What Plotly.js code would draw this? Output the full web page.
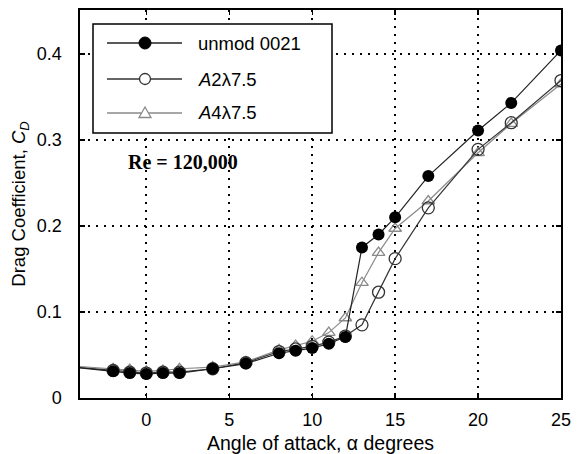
<!DOCTYPE html>
<html>
<head>
<meta charset="utf-8">
<script src="https://cdn.plot.ly/plotly-3.0.1.min.js"></script>
<style>
  html, body { margin: 0; padding: 0; background: #fff; }
  #chart { width: 580px; height: 454px; }
</style>
</head>
<body>
<div id="chart"></div>
<script>
// Angle of attack (degrees)
const alpha = [-5, -2, -1, 0, 1, 2, 4, 6, 8, 9, 10, 11, 12, 13, 14, 15, 17, 20, 22, 25];

// Drag coefficient for each configuration
const cdUnmod = [0.037, 0.031, 0.029, 0.028, 0.029, 0.029, 0.034, 0.040, 0.052, 0.055, 0.058, 0.063, 0.071, 0.175, 0.190, 0.210, 0.258, 0.311, 0.343, 0.404];
const cdA2 = [0.037, 0.032, 0.030, 0.029, 0.030, 0.030, 0.034, 0.041, 0.054, 0.057, 0.060, 0.065, 0.072, 0.085, 0.123, 0.162, 0.221, 0.289, 0.320, 0.369];
const cdA4 = [0.038, 0.034, 0.033, 0.031, 0.032, 0.034, 0.036, 0.042, 0.056, 0.061, 0.066, 0.076, 0.093, 0.134, 0.169, 0.197, 0.229, 0.285, 0.319, 0.365];

const seriesNames = ['unmod 0021', '<i>A</i>2λ7.5', '<i>A</i>4λ7.5'];
const xTicks = [0, 5, 10, 15, 20, 25];
const yTicks = [0, 0.1, 0.2, 0.3, 0.4];
const yTickText = ['0', '0.1', '0.2', '0.3', '0.4'];

const FONT = 'Liberation Sans, Arial, Helvetica, sans-serif';

const traces = [
  {
    x: alpha, y: cdA4, name: seriesNames[2], type: 'scatter', mode: 'lines+markers',
    line: { color: '#8a8a8a', width: 1.2 },
    marker: { symbol: 'triangle-up-open', size: 11, color: '#8a8a8a', line: { width: 1.3 } }
  },
  {
    x: alpha, y: cdA2, name: seriesNames[1], type: 'scatter', mode: 'lines+markers',
    line: { color: '#333', width: 1.2 },
    marker: { symbol: 'circle-open', size: 12, color: '#333', line: { width: 1.3 } }
  },
  {
    x: alpha, y: cdUnmod, name: seriesNames[0], type: 'scatter', mode: 'lines+markers',
    line: { color: '#222', width: 1.2 },
    marker: { symbol: 'circle', size: 12, color: '#000' }
  }
];

// Plot area in pixels, used to place the boxed key in paper units
const W = 580, H = 454;
const M = { l: 80, r: 19, t: 10, b: 56 };
const pw = W - M.l - M.r, ph = H - M.t - M.b;
const px = v => (v - M.l) / pw;
const py = v => (H - M.b - v) / ph;

const keyRows = [43, 79, 113];
const keyLine = [107, 182];
const keyMark = 145;
const half = 6;

const shapes = [
  { type: 'rect', xref: 'paper', yref: 'paper', x0: px(93), x1: px(332), y0: py(133), y1: py(24),
    line: { color: '#000', width: 1.5 }, fillcolor: '#fff', layer: 'above' }
];
const keyColors = ['#222', '#333', '#8a8a8a'];
keyRows.forEach((r, i) => {
  shapes.push({ type: 'line', xref: 'paper', yref: 'paper', x0: px(keyLine[0]), x1: px(keyLine[1]),
    y0: py(r), y1: py(r), line: { color: keyColors[i], width: 1.3 }, layer: 'above' });
});
// key symbols
shapes.push({ type: 'circle', xref: 'paper', yref: 'paper', x0: px(keyMark - half), x1: px(keyMark + half),
  y0: py(keyRows[0] + half), y1: py(keyRows[0] - half), fillcolor: '#000', line: { color: '#000', width: 1 }, layer: 'above' });
shapes.push({ type: 'circle', xref: 'paper', yref: 'paper', x0: px(keyMark - 5.5), x1: px(keyMark + 5.5),
  y0: py(keyRows[1] + 5.5), y1: py(keyRows[1] - 5.5), fillcolor: '#fff', line: { color: '#333', width: 1.3 }, layer: 'above' });
shapes.push({ type: 'path', xref: 'paper', yref: 'paper',
  path: `M${px(keyMark - 6)},${py(keyRows[2] + 4.5)} L${px(keyMark + 6)},${py(keyRows[2] + 4.5)} L${px(keyMark)},${py(keyRows[2] - 6)} Z`,
  fillcolor: '#fff', line: { color: '#8a8a8a', width: 1.3 }, layer: 'above' });

const annotations = keyRows.map((r, i) => ({
  xref: 'paper', yref: 'paper', x: px(196), y: py(r), xanchor: 'left', yanchor: 'middle',
  text: seriesNames[i], showarrow: false, font: { family: FONT, size: 18.5, color: '#000' }
}));
annotations.push({
  xref: 'paper', yref: 'paper', x: px(126), y: py(162), xanchor: 'left', yanchor: 'middle',
  text: '<b>Re = 120,000</b>', showarrow: false,
  font: { family: 'Liberation Serif, Times New Roman, serif', size: 20, color: '#000' }
});

const axisCommon = {
  showline: true, linecolor: '#000', linewidth: 1.6, mirror: 'ticks',
  ticks: 'inside', ticklen: 5, tickwidth: 1.3, tickcolor: '#000',
  showgrid: true, gridcolor: '#000', gridwidth: 2, griddash: '2px,6px',
  zeroline: false, tickfont: { family: FONT, size: 18, color: '#000' }
};

const layout = {
  width: W, height: H,
  margin: M,
  paper_bgcolor: '#fff', plot_bgcolor: '#fff',
  showlegend: false,
  xaxis: Object.assign({}, axisCommon, {
    range: [-4, 25], tickvals: xTicks, ticktext: xTicks.map(String),
    ticklabelstandoff: 5,
    title: { text: 'Angle of attack, α degrees', font: { family: FONT, size: 19.5, color: '#000' }, standoff: 8 }
  }),
  yaxis: Object.assign({}, axisCommon, {
    range: [0, 0.451], tickvals: yTicks, ticktext: yTickText,
    ticklabelstandoff: 13,
    title: { text: 'Drag Coefficient, <i>C</i><sub><i>D</i></sub>', font: { family: FONT, size: 18.5, color: '#000' }, standoff: 6 }
  }),
  shapes: shapes,
  annotations: annotations
};

Plotly.newPlot('chart', traces, layout, { staticPlot: true, displayModeBar: false });
</script>
</body>
</html>
